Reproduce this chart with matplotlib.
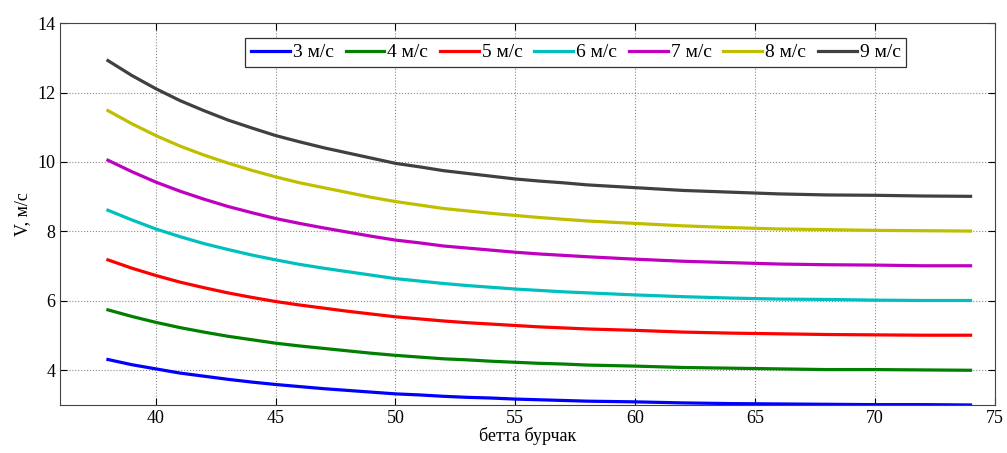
import matplotlib
matplotlib.use("Agg")
import matplotlib.pyplot as plt

plt.rcParams["font.family"] = ["Liberation Serif", "DejaVu Serif"]

# angle (degrees)
beta = [38, 39, 40, 41, 42, 43, 44, 45, 46, 47, 48, 49, 50, 51, 52, 53, 54, 55, 56, 57, 58,
        60, 62, 64, 66, 68, 70, 72, 74]

v3 = [4.31, 4.16, 4.04, 3.92, 3.83, 3.74, 3.66, 3.59, 3.53, 3.47, 3.42, 3.37, 3.32, 3.29, 3.25,
      3.22, 3.20, 3.17, 3.15, 3.13, 3.11, 3.09, 3.06, 3.04, 3.03, 3.02, 3.01, 3.01, 3.00]
v4 = [5.74, 5.55, 5.38, 5.23, 5.10, 4.98, 4.88, 4.78, 4.70, 4.63, 4.56, 4.49, 4.43, 4.38, 4.33,
      4.30, 4.26, 4.23, 4.20, 4.18, 4.15, 4.12, 4.08, 4.06, 4.04, 4.02, 4.02, 4.01, 4.00]
v5 = [7.18, 6.94, 6.73, 6.54, 6.38, 6.23, 6.10, 5.98, 5.88, 5.79, 5.70, 5.62, 5.54, 5.48, 5.42,
      5.37, 5.33, 5.29, 5.25, 5.22, 5.19, 5.15, 5.10, 5.07, 5.05, 5.03, 5.02, 5.01, 5.01]
v6 = [8.61, 8.33, 8.07, 7.85, 7.65, 7.48, 7.32, 7.18, 7.05, 6.94, 6.84, 6.74, 6.64, 6.57, 6.50,
      6.44, 6.39, 6.34, 6.30, 6.26, 6.23, 6.17, 6.12, 6.08, 6.05, 6.04, 6.02, 6.01, 6.01]
v7 = [10.05, 9.72, 9.42, 9.16, 8.93, 8.72, 8.54, 8.37, 8.23, 8.10, 7.98, 7.86, 7.75, 7.67, 7.58,
      7.52, 7.46, 7.40, 7.35, 7.31, 7.27, 7.20, 7.14, 7.10, 7.06, 7.04, 7.03, 7.01, 7.01]
v8 = [11.48, 11.10, 10.76, 10.46, 10.20, 9.97, 9.76, 9.57, 9.40, 9.26, 9.12, 8.98, 8.86, 8.76, 8.66,
      8.59, 8.52, 8.46, 8.40, 8.35, 8.30, 8.23, 8.16, 8.11, 8.07, 8.05, 8.03, 8.02, 8.01]
v9 = [12.92, 12.49, 12.11, 11.77, 11.48, 11.21, 10.98, 10.76, 10.58, 10.41, 10.26, 10.11, 9.96, 9.86, 9.75,
      9.67, 9.59, 9.51, 9.45, 9.40, 9.34, 9.26, 9.18, 9.13, 9.08, 9.05, 9.04, 9.02, 9.01]

labels = ["3 м/с", "4 м/с", "5 м/с", "6 м/с", "7 м/с", "8 м/с", "9 м/с"]
series = [v3, v4, v5, v6, v7, v8, v9]
colors = ["#0000ff", "#007f00", "#ff0000", "#00bfbf", "#bf00bf", "#bfbf00", "#404040"]

fig = plt.figure(figsize=(10.07, 4.53), dpi=100)
ax = fig.add_axes([0.0596, 0.106, 0.928, 0.843])

for vals, lab, col in zip(series, labels, colors):
    ax.plot(beta, vals, color=col, linewidth=2.3, label=lab, solid_joinstyle="round")

ax.set_xlim(36, 75)
ax.set_ylim(3, 14)
ax.set_xticks(range(40, 76, 5))
ax.set_yticks(range(4, 15, 2))
ax.grid(True, linestyle=":", color="#8a8a8a", linewidth=0.8)
ax.tick_params(direction="in", top=True, right=True, labelsize=13, length=5)
for sp in ax.spines.values():
    sp.set_color("#444444")

ax.set_xlabel("бетта бурчак", fontsize=13, labelpad=0)
ax.set_ylabel("V, м/с", fontsize=13, labelpad=4)

leg = ax.legend(loc="center", bbox_to_anchor=(0.552, 0.923), ncol=7, fontsize=14,
                handlelength=2.0, handletextpad=0.15, columnspacing=0.6,
                borderpad=0.3, fancybox=False, framealpha=1)
leg.get_frame().set_edgecolor("#333333")
leg.get_frame().set_linewidth(0.9)

fig.savefig("out.png", dpi=100)
